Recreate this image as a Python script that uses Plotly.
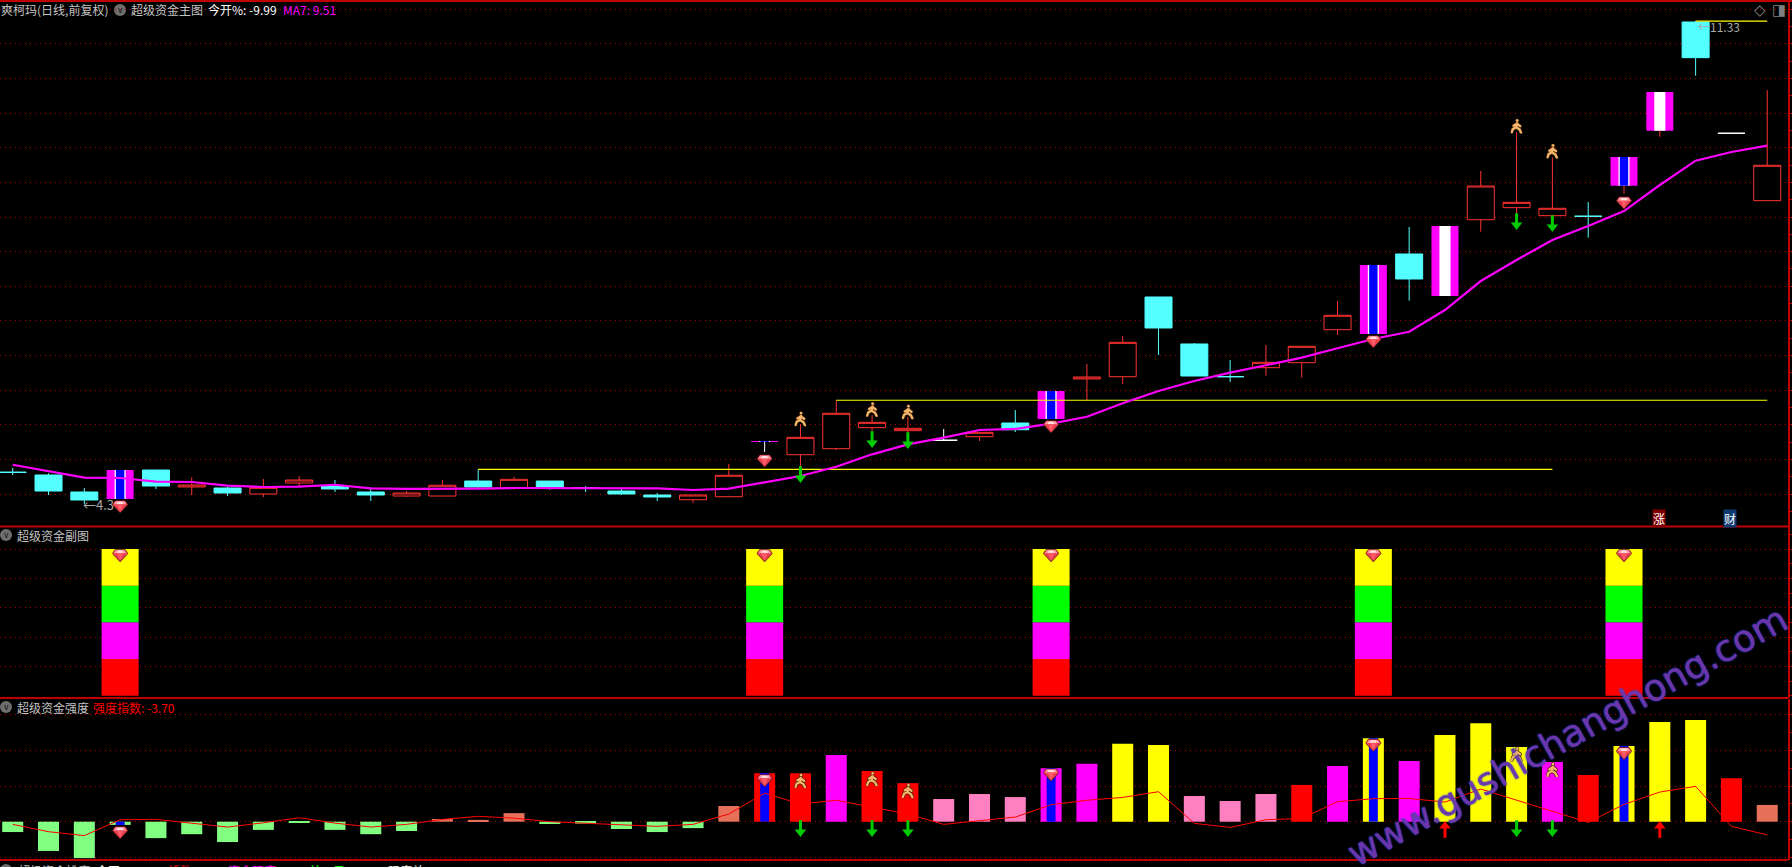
import base64
import plotly.graph_objects as go

W, H = 1792, 867

# ---- main price panel ----
opens = [4.742,4.702,4.454,4.352,4.775,4.527,4.512,4.425,4.585,4.541,4.454,4.395,4.395,4.614,4.512,4.614,4.512,
         4.468,4.410,4.341,4.385,5.185,4.998,5.086,5.393,5.349,5.209,5.261,5.461,5.520,6.104,6.137,7.301,6.615,
         6.138,6.269,6.342,6.823,6.761,7.929,7.315,8.429,8.605,8.488,8.480,8.926,9.729,11.316,9.691,8.707]
highs = [4.804,4.727,4.512,4.775,4.775,4.668,4.527,4.644,4.687,4.629,4.522,4.468,4.629,4.785,4.673,4.614,4.541,
         4.498,4.439,4.410,4.863,5.194,5.447,5.793,5.578,5.553,5.374,5.325,5.651,5.928,6.323,6.731,7.301,6.629,
         6.381,6.600,6.581,7.242,7.768,8.323,8.337,9.140,9.710,9.340,8.688,9.345,10.294,11.33,9.691,10.323]
lows = [4.702,4.410,4.279,4.352,4.498,4.410,4.395,4.381,4.541,4.454,4.322,4.381,4.395,4.527,4.490,4.487,4.454,
        4.410,4.322,4.293,4.385,5.038,4.823,5.067,5.334,5.315,5.209,5.198,5.330,5.520,5.793,6.031,6.454,6.147,
        6.060,6.152,6.123,6.746,6.761,7.247,7.315,8.254,8.517,8.488,8.167,8.809,9.641,10.532,9.691,8.707]
closes = [4.741,4.468,4.337,4.775,4.541,4.556,4.439,4.522,4.629,4.498,4.410,4.439,4.552,4.527,4.639,4.527,4.511,
          4.425,4.381,4.410,4.698,5.194,5.252,5.603,5.471,5.384,5.209,5.325,5.363,5.928,6.133,6.639,6.848,6.147,
          6.137,6.347,6.581,7.034,7.768,7.564,8.337,8.921,8.683,8.596,8.479,9.345,10.294,10.795,9.691,9.224]
ma7 = [4.852,4.760,4.663,4.658,4.604,4.600,4.546,4.527,4.531,4.560,4.508,4.498,4.498,4.502,4.512,4.512,4.512,
       4.512,4.508,4.483,4.502,4.595,4.687,4.823,5.004,5.150,5.247,5.359,5.374,5.451,5.553,5.749,5.928,6.074,
       6.196,6.304,6.415,6.552,6.688,6.794,7.111,7.534,7.841,8.133,8.337,8.556,8.936,9.291,9.418,9.51]
x_idx = list(range(len(opens)))

special_idx = [3, 21, 29, 38, 40, 45, 46]
blue_idx = [3, 21, 29, 38, 45]
white_doji_idx = [26, 48]
white_wick_idx = [21]
red_wick_idx = [45, 46]

gem_idx = [3, 21, 29, 38, 45]
gem_price = [4.239, 4.906, 5.407, 6.648, 8.673]
runner_idx = [22, 24, 25, 42, 43]
runner_price = [5.524, 5.661, 5.626, 9.797, 9.432]
down_idx = [22, 24, 25, 42, 43]
down_price = [4.702, 5.213, 5.198, 8.396, 8.367]

ray_a = dict(x=[13, 43], level=4.785)
ray_b = dict(x=[23, 49], level=5.793)
ray_c = dict(x=[47, 49], level=11.33)

# ---- second panel ----
stack_idx = [3, 21, 29, 38, 45]
stack_colors = ["#ff0000", "#ff00ff", "#00ff00", "#ffff00"]
stack_gem = [3.82, 3.82, 3.82, 3.82, 3.82]

# ---- third panel ----
strength = [-2.9,-8.2,-10.2,-0.9,-4.6,-3.5,-5.7,-2.3,-0.25,-2.3,-3.5,-2.6,0.75,0.5,2.4,-0.65,-0.55,-2.05,-2.9,-1.8,
            4.4,13.6,13.6,18.7,14.2,10.8,6.35,7.75,6.9,15.0,16.2,21.8,21.5,7.2,5.8,7.75,10.3,15.6,23.4,17.0,24.3,
            27.6,20.9,16.7,13.1,21.2,27.9,28.5,12.2,4.7]
strength_kind = list("gggggggggggg" "sss" "ggggg" "s" "rr" "m" "rr" "ppp" "mm" "yy" "ppp" "r" "m" "y" "m" "yy" "y" "m" "r" "y" "yy" "r" "s")
kind_color = {"g": "#80ff80", "s": "#e6705a", "r": "#ff0000", "m": "#ff00ff", "p": "#ff80c0", "y": "#ffff00"}
index_line = [-0.75,-2.8,-3.9,0.55,0.65,-0.47,-1.5,-0.3,1.1,-0.4,-1.5,-0.75,0.65,1.5,1.0,0.0,-0.47,-0.93,-1.3,-0.75,
              2.15,8.0,4.95,6.0,4.0,2.15,-0.75,0.2,1.3,4.75,6.0,6.8,8.4,-0.47,-1.6,0.55,0.93,5.6,6.45,6.5,5.5,9.15,
              6.0,3.0,-0.2,4.85,8.3,9.9,-1.3,-3.70]
s_gem_idx = [3, 21, 29, 38, 45]
s_gem_val = [-3.1, 11.5, 13.1, 21.4, 19.1]
s_runner_idx = [22, 24, 25, 42, 43]
s_runner_val = [11.5, 12.0, 8.7, 18.9, 14.6]
s_down_idx = [22, 24, 25, 42, 43]
s_up_idx = [40, 46]
s_arrow_val = -2.05

RED = "#ff3232"
CYAN = "#54ffff"
BORDER = "#c00000"
GRID = "#b00000"
CJK = "Noto Sans CJK SC"

gem_svg = ('<svg xmlns="http://www.w3.org/2000/svg" viewBox="0 0 16 12" width="64" height="48">'
           '<polygon points="3,0.3 13,0.3 15.8,4 8,11.8 0.2,4" fill="#e83e4e" stroke="#3a0c14" stroke-width="0.6"/>'
           '<polygon points="3.5,1 12.5,1 14.4,3.8 1.6,3.8" fill="#ff9aa2"/>'
           '<polygon points="5.5,1.4 10.5,1.4 11.4,3.4 4.6,3.4" fill="#ffe0e2"/>'
           '<polygon points="5,4 11,4 8,10.6" fill="#ff5c68"/></svg>')
runner_svg = ('<svg xmlns="http://www.w3.org/2000/svg" viewBox="0 0 12 15" width="48" height="60">'
              '<g fill="none" stroke-linecap="round" stroke-linejoin="round">'
              '<path d="M6.5 4.4L5.6 8.8L2.2 10.6L1 14M5.6 8.8L9 11L10.6 14.4M6.3 5.2L9.6 7.6M6.3 5.2L3 7.2" stroke="#3a2000" stroke-width="3.6"/>'
              '<path d="M6.5 4.4L5.6 8.8L2.2 10.6L1 14M5.6 8.8L9 11L10.6 14.4M6.3 5.2L9.6 7.6M6.3 5.2L3 7.2" stroke="#f6b66c" stroke-width="2.3"/>'
              '</g><circle cx="6.6" cy="1.9" r="1.7" fill="#f6b66c" stroke="#3a2000" stroke-width="0.6"/></svg>')
gem_src = "data:image/svg+xml;base64," + base64.b64encode(gem_svg.encode()).decode()
runner_src = "data:image/svg+xml;base64," + base64.b64encode(runner_svg.encode()).decode()


def frac_y(px):
    return 1 - px / H


def frac_x(px):
    return px / W


fig = go.Figure()

# candles
excluded = set(special_idx) | set(white_doji_idx)
normal = [i for i in x_idx if i not in excluded]
fig.add_trace(go.Candlestick(
    x=normal,
    open=[opens[i] for i in normal], high=[highs[i] for i in normal],
    low=[lows[i] for i in normal], close=[closes[i] for i in normal],
    increasing=dict(line=dict(color=RED, width=1), fillcolor="#000000"),
    decreasing=dict(line=dict(color=CYAN, width=1), fillcolor=CYAN),
    whiskerwidth=0, hoverinfo="skip", showlegend=False, xaxis="x", yaxis="y"))
fig.add_trace(go.Candlestick(
    x=white_doji_idx,
    open=[opens[i] for i in white_doji_idx], high=[highs[i] for i in white_doji_idx],
    low=[lows[i] for i in white_doji_idx], close=[closes[i] for i in white_doji_idx],
    increasing=dict(line=dict(color="#ffffff", width=1), fillcolor="#ffffff"),
    decreasing=dict(line=dict(color="#ffffff", width=1), fillcolor="#ffffff"),
    whiskerwidth=0, hoverinfo="skip", showlegend=False, xaxis="x", yaxis="y"))

# special candles
bases = [min(opens[i], closes[i]) for i in special_idx]
tall = [abs(closes[i] - opens[i]) for i in special_idx]
fig.add_trace(go.Bar(x=special_idx, y=tall, base=bases, width=0.754, marker=dict(color="#ff00ff", line=dict(width=0)),
                     hoverinfo="skip", showlegend=False, yaxis="y"))
fig.add_trace(go.Bar(x=special_idx, y=tall, base=bases, width=0.31, marker=dict(color="#ffffff", line=dict(width=0)),
                     hoverinfo="skip", showlegend=False, yaxis="y"))
bl_base = [min(opens[i], closes[i]) for i in blue_idx]
bl_tall = [abs(closes[i] - opens[i]) for i in blue_idx]
fig.add_trace(go.Bar(x=blue_idx, y=bl_tall, base=bl_base, width=0.235, marker=dict(color="#0000ff", line=dict(width=0)),
                     hoverinfo="skip", showlegend=False, yaxis="y"))

# wicks of the special candles
wx, wy = [], []
for i in red_wick_idx:
    wx += [i, i, None]
    wy += [lows[i], min(opens[i], closes[i]), None]
fig.add_trace(go.Scatter(x=wx, y=wy, mode="lines", line=dict(color=RED, width=1), hoverinfo="skip",
                         showlegend=False, yaxis="y"))
wx, wy = [], []
for i in white_wick_idx:
    wx += [i, i, None]
    wy += [lows[i], highs[i], None]
fig.add_trace(go.Scatter(x=wx, y=wy, mode="lines", line=dict(color="#ffffff", width=1), hoverinfo="skip",
                         showlegend=False, yaxis="y"))

# horizontal rays
for ray in (ray_a, ray_b, ray_c):
    fig.add_trace(go.Scatter(x=ray["x"], y=[ray["level"]] * 2, mode="lines", line=dict(color="#ffff00", width=1.2),
                             hoverinfo="skip", showlegend=False, yaxis="y"))

# MA7
fig.add_trace(go.Scatter(x=x_idx, y=ma7, mode="lines", line=dict(color="#ff00ff", width=2.2), hoverinfo="skip",
                         showlegend=False, yaxis="y"))


def add_arrows(idx, vals, color, axis, unit_per_px, up=False):
    sign = -1 if up else 1
    fig.add_trace(go.Scatter(x=idx, y=[v + sign * 2.5 * unit_per_px for v in vals], mode="markers",
                             marker=dict(symbol="line-ns", size=9, line=dict(color=color, width=3)),
                             hoverinfo="skip", showlegend=False, yaxis=axis))
    fig.add_trace(go.Scatter(x=idx, y=[v - sign * 3 * unit_per_px for v in vals], mode="markers",
                             marker=dict(symbol="triangle-up" if up else "triangle-down", size=10, color=color,
                                         line=dict(width=0)),
                             hoverinfo="skip", showlegend=False, yaxis=axis))


add_arrows(down_idx, down_price, "#00cc00", "y", 0.0146)

# second panel
for k, col in enumerate(stack_colors):
    fig.add_trace(go.Bar(x=stack_idx, y=[1] * len(stack_idx), base=[k] * len(stack_idx), width=1.034,
                         marker=dict(color=col, line=dict(width=0)), hoverinfo="skip", showlegend=False, yaxis="y2"))

# third panel
fig.add_trace(go.Bar(x=x_idx, y=strength, width=0.587,
                     marker=dict(color=[kind_color[c] for c in strength_kind], line=dict(width=0)),
                     hoverinfo="skip", showlegend=False, yaxis="y3"))
fig.add_trace(go.Bar(x=blue_idx, y=[strength[i] for i in blue_idx], width=0.25,
                     marker=dict(color="#0000ff", line=dict(width=0)),
                     hoverinfo="skip", showlegend=False, yaxis="y3"))
fig.add_trace(go.Scatter(x=x_idx, y=index_line, mode="lines", line=dict(color="#ff0000", width=1), hoverinfo="skip",
                         showlegend=False, yaxis="y3"))
add_arrows(s_down_idx, [s_arrow_val] * len(s_down_idx), "#00cc00", "y3", 0.28)
add_arrows(s_up_idx, [s_arrow_val] * len(s_up_idx), "#ff0000", "y3", 0.28, up=True)


def axis_common():
    return dict(showticklabels=False, showline=True, linecolor=BORDER, linewidth=2, side="right", anchor="x",
                ticks="outside", ticklen=4, tickcolor=BORDER, tickwidth=1, showgrid=True, gridcolor=GRID,
                griddash="1px,4px", gridwidth=1, zeroline=False, fixedrange=True)


layout = dict(
    width=W, height=H, margin=dict(l=0, r=0, t=0, b=0), paper_bgcolor="#000000", plot_bgcolor="#000000",
    barmode="overlay", boxgap=0.246, boxgroupgap=0, showlegend=False, hovermode=False,
    xaxis=dict(domain=[0, 1788 / W], range=[-0.355, 49.58], visible=False, rangeslider=dict(visible=False),
               fixedrange=True, anchor="y"),
    yaxis=dict(domain=[frac_y(526.5), frac_y(2)], range=[11.637 - 0.0146 * 526.5, 11.637 - 0.0146 * 2],
               tick0=4.4246, dtick=0.5054,
               minor=dict(ticks="outside", ticklen=4, tickcolor=BORDER, tick0=4.4246, dtick=0.2527, showgrid=False),
               **axis_common()),
    yaxis2=dict(domain=[frac_y(698), frac_y(527)], range=[-0.063, 4.6], tickmode="array",
                tickvals=[0.8, 1.6, 2.4, 3.2, 4.0],
                minor=dict(ticks="outside", ticklen=4, tickcolor=BORDER, tick0=0, dtick=0.4, showgrid=False),
                **axis_common()),
    yaxis3=dict(domain=[frac_y(860), frac_y(699)], range=[-10.73, 34.37], tick0=0, dtick=10,
                minor=dict(ticks="outside", ticklen=4, tickcolor=BORDER, tick0=0, dtick=5, showgrid=False),
                **axis_common()),
)

# icons, placed through the axes
images = []


def add_icons(src, idx, vals, yref, px_per_unit, w_px, h_px):
    for i, v in zip(idx, vals):
        images.append(dict(source=src, xref="x", yref=yref, x=i, y=v, sizex=w_px / 35.8, sizey=h_px / px_per_unit,
                           sizing="stretch", xanchor="center", yanchor="middle", layer="above"))


add_icons(gem_src, gem_idx, gem_price, "y", 1 / 0.0146, 16, 13)
add_icons(runner_src, runner_idx, runner_price, "y", 1 / 0.0146, 12, 15)
add_icons(gem_src, stack_idx, stack_gem, "y2", 36.67, 16, 13)
add_icons(gem_src, s_gem_idx, s_gem_val, "y3", 3.57, 16, 13)
add_icons(runner_src, s_runner_idx, s_runner_val, "y3", 3.57, 12, 15)
layout["images"] = images

annotations = []


def text(t, x, y, color="#c4c4c4", size=12, family=CJK, anchor="left", **kw):
    annotations.append(dict(text=t, x=frac_x(x), y=frac_y(y), xref="paper", yref="paper", xanchor=anchor,
                            yanchor="middle", showarrow=False, font=dict(family=family, size=size, color=color),
                            borderpad=0, **kw))


text("爽柯玛(日线,前复权)", 0, 10)
text("超级资金主图", 130, 10)
text("今开%: -9.99", 207, 10, "#ffffff")
text("MA7: 9.51", 282, 10, "#ff00ff")
text("超级资金副图", 16, 535)
text("超级资金强度", 16, 707)
text("强度指数: -3.70", 92, 707, "#ff0000")
text("超级资金排序", 17, 870)
text("今开%: -9.99", 95, 870, "#ffffff")
text("折数: 0.00", 167, 870, "#ff0000")
text("资金强度: 1.48", 227, 870, "#ff00ff")
text("前一日: 12.34", 308, 870, "#00ff00")
text("强度差: 7.76", 387, 870, "#ffffff")
text("◇", 1760, 10, "#808080", size=15, family="DejaVu Sans", anchor="center")
text("◨", 1779, 10, "#808080", size=15, family="DejaVu Sans", anchor="center")
text("涨", 1658.5, 518.5, "#ffffff", anchor="center", bgcolor="#800000")
text("财", 1729.5, 518.5, "#ffffff", anchor="center", bgcolor="#103a70")
for cx, cy in [(120, 10), (6, 535), (6, 707), (6, 870)]:
    text("∨", cx, cy, "#202020", size=9, family="DejaVu Sans", anchor="center")

# price labels
annotations.append(dict(text="←4.3", x=1.9, y=4.265, xref="x", yref="y", xanchor="left", yanchor="middle",
                        showarrow=False, font=dict(family=CJK, size=13, color="#a8a8a8")))
annotations.append(dict(text="←11.33", x=47, y=11.257, xref="x", yref="y", xanchor="left", yanchor="middle",
                        showarrow=False, font=dict(family=CJK, size=12, color="#a8a8a8")))

# watermark
annotations.append(dict(text="www.gushichanghong.com", x=frac_x(1567), y=frac_y(736), xref="paper", yref="paper",
                        xanchor="center", yanchor="middle", textangle=-29, showarrow=False,
                        font=dict(family="DejaVu Sans", size=37, color="rgba(125,50,160,0.82)",
                                  shadow="0 0 2px #2a48e0, 0 0 1px #2a48e0")))
layout["annotations"] = annotations

shapes = []
for yp in [1, 526.5, 698, 860]:
    shapes.append(dict(type="line", xref="paper", yref="paper", x0=0, x1=frac_x(1792 if yp == 1 else 1788),
                       y0=frac_y(yp), y1=frac_y(yp), line=dict(color=BORDER, width=2)))
for cx, cy in [(120, 10), (6, 535), (6, 707), (6, 870)]:
    shapes.append(dict(type="circle", xref="paper", yref="paper", x0=frac_x(cx - 6), x1=frac_x(cx + 6),
                       y0=frac_y(cy + 6), y1=frac_y(cy - 6), fillcolor="#6e6e6e", line=dict(width=0), layer="below"))
layout["shapes"] = shapes

fig.update_layout(**layout)
fig.write_html("out.html", config=dict(displayModeBar=False),
               post_script="document.body.style.margin='0';document.body.style.overflow='hidden';"
                           "document.documentElement.style.background='#000';")
